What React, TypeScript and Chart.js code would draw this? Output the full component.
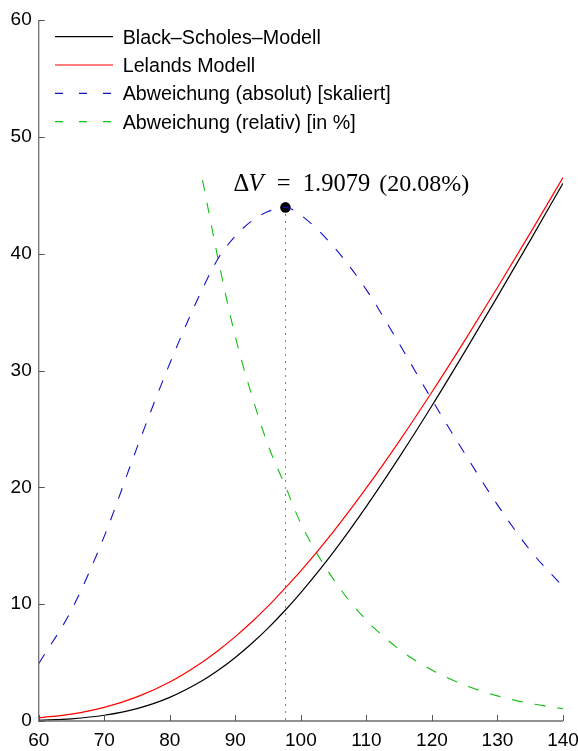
import React, { useEffect, useRef } from "react";
import { Chart, registerables } from "chart.js";

Chart.register(...registerables);

// ---- data ----
const spotPrices = [60, 65, 70, 75, 80, 85, 87.5, 90, 92.5, 95, 97.65, 100, 105, 110, 115, 120, 125, 130, 135, 140];
const blackScholes = [0.06, 0.19, 0.49, 1.06, 2.02, 3.46, 4.38, 5.44, 6.63, 7.95, 9.5, 10.99, 14.48, 18.37, 22.56, 26.98, 31.59, 36.32, 41.14, 46.03];
const lelandModel = [0.27, 0.59, 1.16, 2.06, 3.34, 5.06, 6.08, 7.22, 8.47, 9.83, 11.41, 12.85, 16.24, 19.95, 23.94, 28.16, 32.56, 37.1, 41.76, 46.51];
const absDeviationScaled = [4.9, 9.5, 15.8, 23.4, 30.6, 37.0, 39.7, 41.5, 42.8, 43.6, 43.96, 43.3, 40.6, 36.9, 32.3, 27.5, 22.9, 18.5, 14.6, 11.5];
const relDeviationPct: (number | null)[] = [null, null, null, null, null, 46.3, 39.2, 32.9, 27.9, 23.6, 20.08, 16.9, 12.1, 8.63, 6.14, 4.36, 3.07, 2.15, 1.5, 1.05];

const peakX = [97.65];
const peakY = [43.96];

const xTicks = [60, 70, 80, 90, 100, 110, 120, 130, 140];
const yTicks = [0, 10, 20, 30, 40, 50, 60];

const legendLabels = [
  "Black\u2013Scholes\u2013Modell",
  "Lelands Modell",
  "Abweichung (absolut) [skaliert]",
  "Abweichung (relativ) [in %]",
];
const seriesColors = ["#000000", "#ff0000", "#1010c8", "#10c010"];
const seriesDashed = [false, false, true, true];

const annotationValue = "1.9079";
const annotationPct = "(20.08%)";

const SANS = '"Liberation Sans", Arial, Helvetica, sans-serif';
const SERIF = '"Liberation Serif", "Times New Roman", serif';

const toPoints = (arr: (number | null)[]) => spotPrices.map((x, i) => ({ x, y: arr[i] }));

const decorPlugin = {
  id: "decor",
  beforeDatasetsDraw(chart: any) {
    const { ctx, chartArea, scales } = chart;
    const xs = scales.x;
    const ys = scales.y;
    ctx.save();
    const px = xs.getPixelForValue(peakX[0]);
    const py = ys.getPixelForValue(peakY[0]);
    ctx.strokeStyle = "#333";
    ctx.lineWidth = 1;
    ctx.setLineDash([1.2, 5.8]);
    ctx.beginPath();
    ctx.moveTo(Math.round(px) + 0.5, py);
    ctx.lineTo(Math.round(px) + 0.5, chartArea.bottom);
    ctx.stroke();
    ctx.restore();
  },
  afterDraw(chart: any) {
    const { ctx, chartArea, scales } = chart;
    const xs = scales.x;
    const ys = scales.y;
    const L = chartArea.left;
    const B = chartArea.bottom;
    ctx.save();
    ctx.setLineDash([]);
    ctx.strokeStyle = "#6e6e6e";
    ctx.lineWidth = 1.3;
    ctx.beginPath();
    ctx.moveTo(L, ys.getPixelForValue(60));
    ctx.lineTo(L, B);
    ctx.lineTo(xs.getPixelForValue(140), B);
    ctx.stroke();
    ctx.strokeStyle = "#555";
    ctx.lineWidth = 1;
    yTicks.forEach((v) => {
      const y = Math.round(ys.getPixelForValue(v)) + 0.5;
      ctx.beginPath();
      ctx.moveTo(L, y);
      ctx.lineTo(L + 6, y);
      ctx.stroke();
    });
    xTicks.forEach((v) => {
      const x = Math.round(xs.getPixelForValue(v)) + 0.5;
      ctx.beginPath();
      ctx.moveTo(x, B);
      ctx.lineTo(x, B - 6);
      ctx.stroke();
    });

    // legend
    const rowY = [36.7, 65, 93.3, 121.7];
    for (let i = 0; i < legendLabels.length; i++) {
      ctx.save();
      ctx.strokeStyle = seriesColors[i];
      ctx.lineWidth = 1.2;
      ctx.setLineDash(seriesDashed[i] ? [8, 16] : []);
      ctx.beginPath();
      ctx.moveTo(55, rowY[i]);
      ctx.lineTo(113, rowY[i]);
      ctx.stroke();
      ctx.restore();
      ctx.fillStyle = "#000";
      ctx.font = `19.7px ${SANS}`;
      ctx.textBaseline = "alphabetic";
      ctx.textAlign = "left";
      ctx.fillText(legendLabels[i], 122.7, rowY[i] + 6.8);
    }

    // annotation text
    const px = xs.getPixelForValue(peakX[0]);
    const py = ys.getPixelForValue(peakY[0]);
    const base = py - 16.5;
    const x0 = px - 52;
    ctx.fillStyle = "#000";
    ctx.textBaseline = "alphabetic";
    ctx.font = `24.5px ${SERIF}`;
    ctx.fillText("\u0394", x0, base);
    ctx.font = `italic 24.5px ${SERIF}`;
    ctx.fillText("V", x0 + 15, base);
    ctx.font = `24.5px ${SERIF}`;
    ctx.fillText("=", x0 + 43.4, base);
    ctx.fillText(annotationValue, x0 + 69.4, base);
    ctx.font = `24px ${SERIF}`;
    ctx.fillText(annotationPct, x0 + 145.7, base);
    ctx.restore();
  },
};

export default function App() {
  const canvasRef = useRef<HTMLCanvasElement | null>(null);

  useEffect(() => {
    if (!canvasRef.current) return;
    const lineDs = (label: string, data: (number | null)[], i: number) => ({
      type: "line" as const,
      label,
      data: toPoints(data),
      borderColor: seriesColors[i],
      backgroundColor: seriesColors[i],
      borderWidth: seriesDashed[i] ? 1.1 : 1.2,
      borderDash: seriesDashed[i] ? [11, 12] : [],
      pointRadius: 0,
      pointHoverRadius: 0,
      cubicInterpolationMode: "monotone" as const,
      fill: false,
      spanGaps: false,
    });

    const chart = new Chart(canvasRef.current, {
      type: "line",
      data: {
        datasets: [
          lineDs(legendLabels[0], blackScholes, 0),
          lineDs(legendLabels[1], lelandModel, 1),
          lineDs(legendLabels[2], absDeviationScaled, 2),
          lineDs(legendLabels[3], relDeviationPct, 3),
          {
            type: "scatter" as const,
            label: "peak",
            data: peakX.map((x, i) => ({ x, y: peakY[i] })),
            pointRadius: 5.3,
            pointBackgroundColor: "#000",
            pointBorderWidth: 0,
            showLine: false,
          } as any,
        ],
      },
      options: {
        responsive: false,
        animation: false,
        events: [],
        layout: { padding: { top: 20, right: 15, left: 0, bottom: 0 } },
        plugins: {
          legend: { display: false },
          tooltip: { enabled: false },
        },
        scales: {
          x: {
            type: "linear",
            min: 60,
            max: 140,
            grid: { display: false, drawTicks: false },
            border: { display: false },
            ticks: {
              stepSize: 10,
              padding: 8,
              color: "#000",
              font: { family: SANS, size: 19 },
              maxRotation: 0,
            },
            afterFit: (scale: any) => {
              scale.height = 30;
              scale.paddingLeft = 0;
              scale.paddingRight = 0;
            },
          },
          y: {
            type: "linear",
            min: 0,
            max: 60,
            grid: { display: false, drawTicks: false },
            border: { display: false },
            ticks: {
              stepSize: 10,
              padding: 7,
              color: "#000",
              font: { family: SANS, size: 19 },
            },
            afterFit: (scale: any) => {
              scale.width = 38.7;
              scale.paddingTop = 0;
              scale.paddingBottom = 0;
            },
          },
        },
      },
      plugins: [decorPlugin],
    } as any);

    return () => chart.destroy();
  }, []);

  return (
    <div style={{ position: "absolute", left: 0, top: 0, width: 578, height: 751, background: "#fff" }}>
      <canvas ref={canvasRef} width={578} height={751} style={{ display: "block", width: 578, height: 751 }} />
    </div>
  );
}
